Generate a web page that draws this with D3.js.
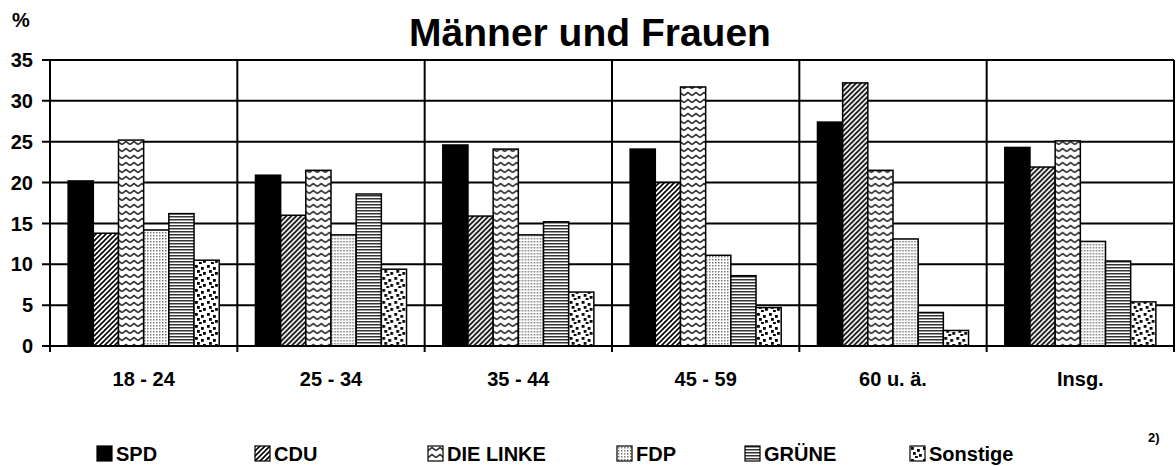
<!DOCTYPE html>
<html>
<head>
<meta charset="utf-8">
<script src="https://cdn.jsdelivr.net/npm/d3@7"></script>
<style>
  body { margin: 0; background: #fff; }
  text { font-family: "Liberation Sans", Arial, sans-serif; font-weight: bold; fill: #000; }
</style>
</head>
<body>
<div id="chart"></div>
<script>
const groups = ['18 - 24', '25 - 34', '35 - 44', '45 - 59', '60 u. ä.', 'Insg.'];
const parties = ['SPD', 'CDU', 'DIE LINKE', 'FDP', 'GRÜNE', 'Sonstige'];
const spd      = [20.2, 20.9, 24.6, 24.1, 27.4, 24.3];
const cdu      = [13.8, 16.0, 15.9, 20.0, 32.2, 21.9];
const linke    = [25.2, 21.5, 24.1, 31.7, 21.5, 25.1];
const fdp      = [14.2, 13.6, 13.6, 11.1, 13.1, 12.8];
const gruene   = [16.2, 18.6, 15.2, 8.6, 4.1, 10.4];
const sonstige = [10.5, 9.4, 6.6, 4.7, 1.9, 5.4];
const yTicks = [0, 5, 10, 15, 20, 25, 30, 35];

const series = [spd, cdu, linke, fdp, gruene, sonstige];

const width = 1176, height = 466;
const margin = {top: 60, right: 2, bottom: 120, left: 50};

const svg = d3.select('#chart').append('svg')
  .attr('width', width).attr('height', height);

const defs = svg.append('defs');
const pat = (id, w, h) => {
  const p = defs.append('pattern').attr('id', id)
    .attr('patternUnits', 'userSpaceOnUse').attr('width', w).attr('height', h);
  p.append('rect').attr('width', w).attr('height', h).attr('fill', '#fff');
  return p;
};

// CDU: diagonal stripes
pat('p-cdu', 5, 5).append('path')
  .attr('d', 'M-1,6 L6,-1 M-1,1 L1,-1 M4,6 L6,4')
  .attr('stroke', '#000').attr('stroke-width', 1.6);
// LINKE: zigzag
pat('p-linke', 8, 7).append('path')
  .attr('d', 'M0,4.5 L4,1.5 L8,4.5')
  .attr('fill', 'none').attr('stroke', '#333').attr('stroke-width', 1.6);
// FDP: small dot grid
pat('p-fdp', 3, 3).append('rect')
  .attr('x', 1).attr('y', 1).attr('width', 1.5).attr('height', 1.5).attr('fill', '#777');
// GRÜNE: horizontal lines
pat('p-gruene', 4, 3).append('rect')
  .attr('x', 0).attr('y', 0).attr('width', 4).attr('height', 1.5).attr('fill', '#333');
// Sonstige: confetti
{
  const p = pat('p-sonst', 12, 12);
  [[1, 1], [7, 3], [3, 6], [9, 8], [5, 10]].forEach(([x, y]) => {
    p.append('rect').attr('x', x).attr('y', y).attr('width', 2.8).attr('height', 2.8).attr('fill', '#000');
  });
}
const fills = ['#000', 'url(#p-cdu)', 'url(#p-linke)', 'url(#p-fdp)', 'url(#p-gruene)', 'url(#p-sonst)'];

const x0 = d3.scaleBand().domain(groups)
  .range([margin.left, width - margin.right]).paddingInner(0).paddingOuter(0);
const x1 = d3.scaleBand().domain(parties)
  .range([0, x0.bandwidth()]).paddingOuter(0.72).paddingInner(0);
const y = d3.scaleLinear().domain([0, 35])
  .range([height - margin.bottom, margin.top]);

// grid
svg.append('g').selectAll('line').data(yTicks).enter().append('line')
  .attr('x1', margin.left - 8).attr('x2', width - margin.right)
  .attr('y1', d => y(d)).attr('y2', d => y(d))
  .attr('stroke', '#000').attr('stroke-width', 2);

// vertical separators
const seps = groups.map(g => x0(g)).concat([width - margin.right]);
svg.append('g').selectAll('line').data(seps).enter().append('line')
  .attr('x1', d => d).attr('x2', d => d)
  .attr('y1', y(35)).attr('y2', y(0) + 6)
  .attr('stroke', '#000').attr('stroke-width', 2);

// bars
const grp = svg.append('g').selectAll('g').data(groups).enter().append('g')
  .attr('transform', d => `translate(${x0(d)},0)`);
grp.selectAll('rect')
  .data((g, gi) => parties.map((p, pi) => ({p, pi, v: series[pi][gi]})))
  .enter().append('rect')
  .attr('x', d => x1(d.p))
  .attr('width', x1.bandwidth())
  .attr('y', d => y(d.v))
  .attr('height', d => y(0) - y(d.v))
  .attr('fill', d => fills[d.pi])
  .attr('stroke', '#000').attr('stroke-width', 1.5);

// axis line redraw
svg.append('line')
  .attr('x1', margin.left - 8).attr('x2', width - margin.right)
  .attr('y1', y(0)).attr('y2', y(0))
  .attr('stroke', '#000').attr('stroke-width', 2);

// y labels
svg.append('g').selectAll('text').data(yTicks).enter().append('text')
  .attr('x', 33).attr('y', d => y(d)).attr('dy', '0.36em')
  .attr('text-anchor', 'end').style('font-size', '20px')
  .text(d => d);

// x labels
svg.append('g').selectAll('text').data(groups).enter().append('text')
  .attr('x', d => x0(d) + x0.bandwidth() / 2).attr('y', 386)
  .attr('text-anchor', 'middle').style('font-size', '20px')
  .text(d => d);

// title
svg.append('text').attr('x', 590).attr('y', 46)
  .attr('text-anchor', 'middle').style('font-size', '39px')
  .text('Männer und Frauen');
svg.append('text').attr('x', 12).attr('y', 27).style('font-size', '20px').text('%');

// legend
const legX = [97, 255, 428, 617, 745, 910];
const leg = svg.append('g').selectAll('g').data(parties).enter().append('g')
  .attr('transform', (d, i) => `translate(${legX[i]},446)`);
leg.append('rect').attr('width', 15).attr('height', 15)
  .attr('fill', (d, i) => fills[i]).attr('stroke', '#000').attr('stroke-width', 1.2);
leg.append('text').attr('x', 19).attr('y', 15).style('font-size', '20px').text(d => d);

svg.append('text').attr('x', 1148).attr('y', 442).style('font-size', '13px').text('2)');
</script>
</body>
</html>
